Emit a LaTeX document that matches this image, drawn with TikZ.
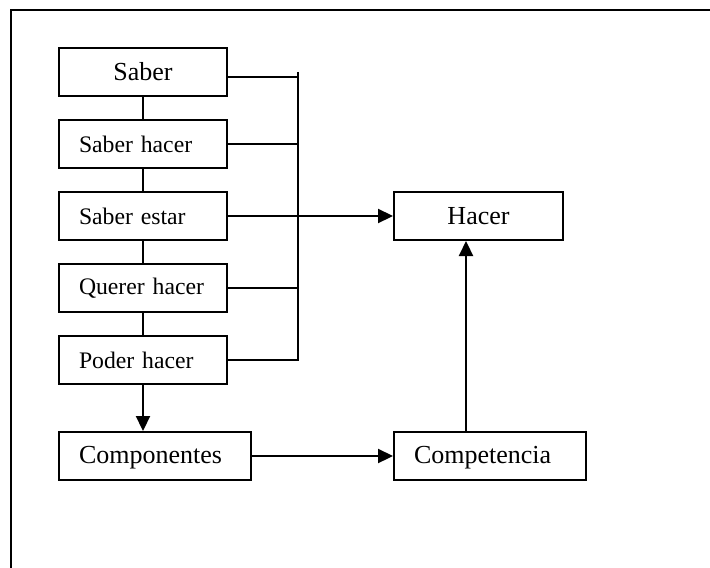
\documentclass[tikz,border=0pt]{standalone}
\usepackage{fontspec}
\setmainfont{Liberation Serif}
\usetikzlibrary{positioning,arrows.meta,calc}

\begin{document}
\begin{tikzpicture}[
        x=0.5pt, y=-0.5pt,
        node distance = 11pt and 35pt,
        box/.style  = {rectangle, draw, line width=1pt, inner ysep=0pt,
                       minimum height=24pt, inner xsep=10pt},
        stk/.style  = {box, text width=64pt, align=left,
                       font=\fontsize{11.85}{14}\selectfont},
        big/.style  = {box, minimum width=84pt, align=center,
                       font=\fontsize{13}{15.6}\selectfont},
        wide/.style = {box, text width=76pt, align=left,
                       text height=8pt, text depth=0.5pt,
                       font=\fontsize{13}{15.6}\selectfont},
        lnk/.style  = {line width=1pt},
        arr/.style  = {-{Triangle[length=7.5pt,width=7pt]}, line width=1.1pt}
    ]
    \useasboundingbox (0,0) rectangle (710,567);
    % outer frame, cut at the right and bottom
    \begin{scope}
    \clip (0,0) rectangle (710,567);
    \draw[line width=1.2pt] (11,10) rectangle (740,600);
    \end{scope}

    \node[big] (saber) at (143,72) {Saber};
    \node[stk, below=of saber]  (shacer)  {Saber hacer};
    \node[stk, below=of shacer] (sestar)  {Saber estar};
    \node[stk, below=of sestar] (qhacer)  {Querer hacer};
    \node[stk, below=of qhacer] (phacer)  {Poder hacer};
    \node[wide, below=23pt of phacer.south west, anchor=north west] (compo) {Componentes};
    \node[big, right=82.5pt of sestar, minimum width=84.5pt] (hacer) {Hacer};
    \node[wide, right=70.5pt of compo] (compet) {Competencia};

    \coordinate[right=of saber] (bus);
    \coordinate (sab) at ($(saber.east)+(0,-2.5pt)$);
    \coordinate (up) at ($(hacer.south)+(-6.25pt,0)$);

    \draw[lnk] (saber) -- (shacer);
    \draw[lnk] (shacer) -- (sestar);
    \draw[lnk] (sestar) -- (qhacer);
    \draw[lnk] (qhacer) -- (phacer);
    \draw[lnk] (bus) -- (bus |- phacer.east) -- (phacer.east);
    \draw[lnk] (sab) -- (bus |- sab);
    \draw[lnk] (shacer.east) -- (bus |- shacer.east);
    \draw[lnk] (qhacer.east) -- (bus |- qhacer.east);
    \draw[arr] (sestar.east) -- (hacer.west);
    \draw[arr] (phacer.south) -- (phacer.south |- compo.north);
    \draw[arr] (compo.east) -- (compet.west);
    \draw[arr] (up |- compet.north) -- (up);
\end{tikzpicture}
\end{document}
